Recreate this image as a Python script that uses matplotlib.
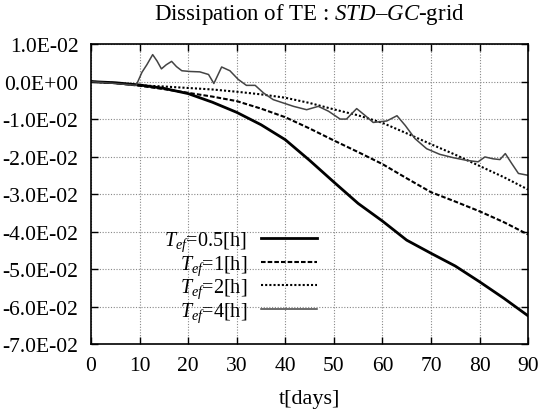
import matplotlib
matplotlib.use("Agg")
import matplotlib.pyplot as plt
from matplotlib.ticker import FuncFormatter
import numpy as np

# values
t_smooth = [0, 5, 10, 15, 20, 25, 30, 35, 40, 45, 50, 55, 60, 65, 70, 75, 80, 85, 90]
te_05 = [0, -0.0003, -0.0009, -0.0018, -0.0032, -0.0055, -0.0082, -0.0115, -0.0155, -0.0210,
         -0.0268, -0.0325, -0.0372, -0.0423, -0.0458, -0.0492, -0.0534, -0.0578, -0.0625]
te_1 = [0, -0.0004, -0.0011, -0.0020, -0.0030, -0.0040, -0.0052, -0.0072, -0.0095, -0.0125,
        -0.0157, -0.0188, -0.0220, -0.0258, -0.0295, -0.0320, -0.0346, -0.0375, -0.0408]
te_2 = [0, -0.0004, -0.0010, -0.0013, -0.0017, -0.0021, -0.0027, -0.0034, -0.0043, -0.0057,
        -0.0074, -0.0090, -0.0110, -0.0138, -0.0167, -0.0195, -0.0225, -0.0255, -0.0288]

t_4 = [0, 5, 9.3, 10.5, 11.5, 12.7, 13.6, 14.5, 15.5, 16.6, 17.6, 18.7, 20.4, 22.4, 24.2,
       25.3, 26.9, 28.6, 30.3, 32.0, 33.8, 35.5, 37.5, 39.6, 41.7, 44.4, 46.8, 48.9, 51.3,
       52.6, 54.7, 56.4, 58.1, 60.9, 63.0, 64.7, 66.7, 69.1, 71.8, 74.6, 77.3, 79.7, 81.1,
       82.8, 84.2, 85.3, 86.6, 88.0, 90.0]
te_4 = [0, -0.0005, -0.0010, 0.0025, 0.0045, 0.0072, 0.0055, 0.0034, 0.0045, 0.0054, 0.0040,
        0.0029, 0.0027, 0.0026, 0.0019, -0.0005, 0.0039, 0.0029, 0.0006, -0.0010, -0.0010,
        -0.0030, -0.0048, -0.0057, -0.0066, -0.0075, -0.0066, -0.0079, -0.0100, -0.0100,
        -0.0072, -0.0090, -0.0109, -0.0105, -0.0091, -0.0117, -0.0152, -0.0179, -0.0194,
        -0.0203, -0.0210, -0.0214, -0.0201, -0.0206, -0.0208, -0.0192, -0.0218, -0.0245,
        -0.0250]

labels = ["0.5", "1", "2", "4"]

plt.rcParams['font.family'] = ['Liberation Serif', 'DejaVu Serif']
plt.rcParams['mathtext.fontset'] = 'custom'
plt.rcParams['mathtext.rm'] = 'Liberation Serif'
plt.rcParams['mathtext.it'] = 'Liberation Serif:italic'

fig = plt.figure(figsize=(5.4, 4.14), dpi=100)
ax = fig.add_axes([0.1685, 0.1667, 0.8095, 0.7243])

ax.plot(t_smooth, te_05, color="black", lw=2.0, ls="-", label=r"$T_{ef}$=%s[h]" % labels[0])
ax.plot(t_smooth, te_1, color="black", lw=1.5, ls=(0, (2.2, 1)), label=r"$T_{ef}$=%s[h]" % labels[1])
ax.plot(t_smooth, te_2, color="black", lw=1.5, ls=(0, (1, 1)), label=r"$T_{ef}$=%s[h]" % labels[2])
ax.plot(t_4, te_4, color="#444444", lw=1.1, ls="-", label=r"$T_{ef}$=%s[h]" % labels[3])

ax.set_xlim(0, 90)
ax.set_ylim(-0.07, 0.01)
ax.set_xticks(np.arange(0, 91, 10))
ax.set_yticks(np.arange(-0.07, 0.0101, 0.01))


def efmt(v, pos):
    if abs(v) < 1e-12:
        return "0.0E+00"
    s = "%.1E" % v
    return s


ax.yaxis.set_major_formatter(FuncFormatter(efmt))
ax.tick_params(direction="in", top=True, right=True, labelsize=15.5, length=5, width=1)
ax.tick_params(axis="y", pad=9)
ax.tick_params(axis="x", pad=9)
ax.grid(True, ls=(0, (1, 1.5)), color="#888888", lw=0.8)
for sp in ax.spines.values():
    sp.set_linewidth(1.2)

ax.set_xlabel("t[days]", fontsize=16, labelpad=10)
ax.set_title(r"Dissipation of TE : $STD$–$GC$-grid", fontsize=16.5, pad=18)

ax.legend(loc="lower right", bbox_to_anchor=(0.55, 0.02), frameon=False, markerfirst=False,
          fontsize=14.5, handlelength=2.8, handletextpad=0.7, labelspacing=0.0,
          borderpad=0.2)

fig.savefig("out.png", dpi=100)
